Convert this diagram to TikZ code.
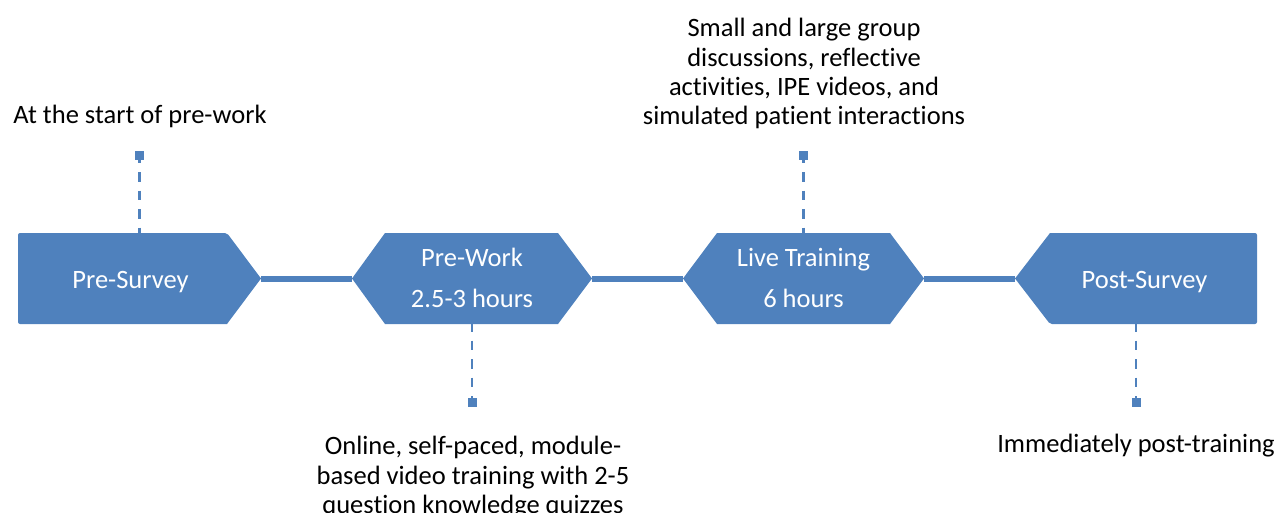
\documentclass[tikz,border=0pt]{standalone}
\usepackage{fontspec}
\setmainfont[Ligatures={NoCommon}]{Carlito}
\definecolor{accent}{HTML}{4F81BD}
\begin{document}
\begin{tikzpicture}[x=1pt,y=-1pt,
  phase/.style={inner sep=0pt, outer sep=0pt, minimum height=91pt},
  label/.style={text=white, font=\fontsize{26.5}{41}\selectfont, align=center, anchor=base},
  note/.style={text=black, font=\fontsize{26.5}{29.3}\selectfont, align=center, anchor=base},
  link/.style={accent, line width=6pt},
  leader/.style={accent, line width=2.5pt, dash pattern=on 9.5pt off 9pt},
  marker/.style={fill=accent, inner sep=0pt, minimum size=9pt}]
\useasboundingbox (0,0) rectangle (1280,512);

% phase boxes (invisible frames used as anchors for the outlines)
\node[phase, minimum width=243pt] (pre)  at (139.5,278.5) {};
\node[phase, minimum width=240pt] (work) at (472,278.5) {};
\node[phase, minimum width=241pt] (live) at (803.5,278.5) {};
\node[phase, minimum width=242pt] (post) at (1136,278.5) {};

% horizontal connectors
\draw[link] (pre.east) -- (work.west);
\draw[link] (work.east) -- (live.west);
\draw[link] (live.east) -- (post.west);

% outlines
\fill[accent, rounded corners=2pt] (pre.north west) -- ([xshift=-34pt]pre.north east)
  [sharp corners] -- (pre.east) -- ([xshift=-34pt]pre.south east)
  [rounded corners=2pt] -- (pre.south west) -- cycle;
\fill[accent] (work.west) -- ([xshift=33pt]work.north west) -- ([xshift=-34pt]work.north east)
  -- (work.east) -- ([xshift=-34pt]work.south east) -- ([xshift=33pt]work.south west) -- cycle;
\fill[accent] (live.west) -- ([xshift=34pt]live.north west) -- ([xshift=-34pt]live.north east)
  -- (live.east) -- ([xshift=-34pt]live.south east) -- ([xshift=34pt]live.south west) -- cycle;
\fill[accent, rounded corners=2pt] (post.north east) -- (post.south east)
  -- ([xshift=35pt]post.south west) [sharp corners] -- (post.west)
  -- ([xshift=35pt]post.north west) [rounded corners=2pt] -- cycle;

% box labels
\node[label] (preT)  at (130.5,288) {Pre-Survey};
\node[label] (workT) at (472,266) {Pre-Work};
\node[label] (workH) at (472,307) {2.5-3 hours};
\node[label] (liveT) at (803.5,266) {Live Training};
\node[label] (liveH) at (803.5,307) {6 hours};
\node[label] (postT) at (1144.5,288) {Post-Survey};

% leader markers
\node[marker] (preM)  at (pre.north |- 0,155) {};
\node[marker] (workM) at (work.south |- 0,402) {};
\node[marker] (liveM) at (live.north |- 0,155) {};
\node[marker] (postM) at (post.south |- 0,402) {};

\draw[leader] ([yshift=6pt]preM.south) -- ([yshift=-2pt]pre.north);
\draw[leader] ([yshift=2pt]work.south) -- ([yshift=-6pt]workM.north);
\draw[leader] ([yshift=6pt]liveM.south) -- ([yshift=-2pt]live.north);
\draw[leader] ([yshift=2pt]post.south) -- ([yshift=-6pt]postM.north);

% annotations
\node[note] (preN) at (140,123) {At the start of pre-work};
\node[note, anchor=north] (liveN) at (804,15) {Small and large group\\discussions, reflective\\activities, IPE videos, and\\simulated patient interactions};
\node[note, anchor=north] (workN) at (473,433) {Online, self-paced, module-\\based video training with 2-5\\question knowledge quizzes};
\node[note] (postN) at (1136,452) {Immediately post-training};
\end{tikzpicture}
\end{document}
